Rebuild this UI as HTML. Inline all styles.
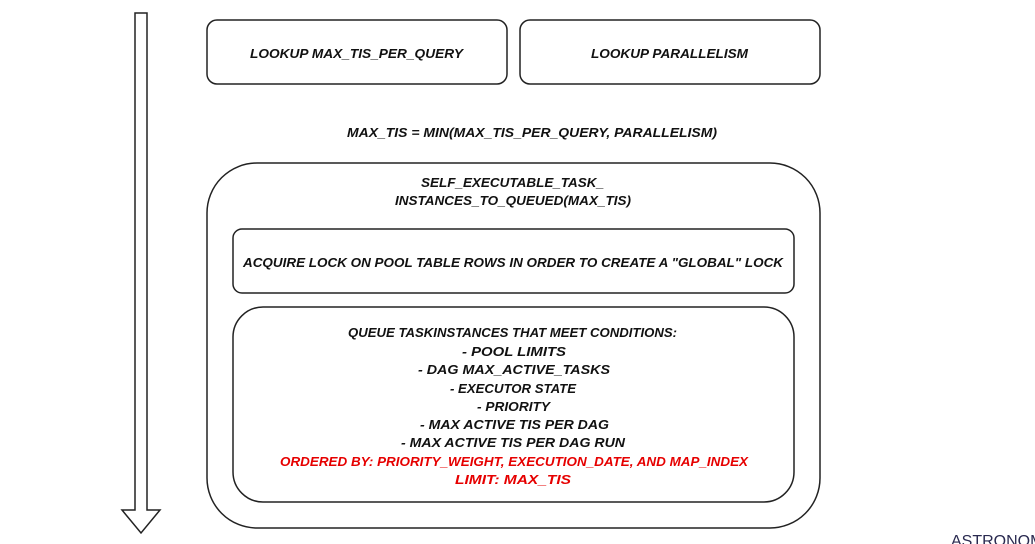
<!DOCTYPE html>
<html><head><meta charset="utf-8"><style>
html,body{margin:0;padding:0;background:#fff;width:1035px;height:544px;overflow:hidden}
text{font-family:"Liberation Sans",sans-serif;font-weight:bold;font-style:italic;text-transform:uppercase;font-size:13px;fill:#111}
.r{fill:#e60000}
</style></head><body>
<svg width="1035" height="544" viewBox="0 0 1035 544" xmlns="http://www.w3.org/2000/svg">
<g fill="none" stroke="#222" stroke-width="1.5">
<path d="M135,13 L147,13 L147,510 L160,510 L141,533 L122,510 L135,510 Z" fill="#fff"/>
<rect x="207" y="20" width="300" height="64" rx="10"/>
<rect x="520" y="20" width="300" height="64" rx="10"/>
<rect x="207" y="163" width="613" height="365" rx="50"/>
<rect x="233" y="229" width="561" height="64" rx="9"/>
<rect x="233" y="307" width="561" height="195" rx="30"/>
</g>
<text x="250" y="58" textLength="213" lengthAdjust="spacingAndGlyphs">Lookup max_tis_per_query</text>
<text x="591" y="58" textLength="157" lengthAdjust="spacingAndGlyphs">Lookup Parallelism</text>
<text x="347" y="137" textLength="370" lengthAdjust="spacingAndGlyphs">max_tis = min(max_tis_per_query, parallelism)</text>
<text x="421" y="187" textLength="183" lengthAdjust="spacingAndGlyphs">Self_executable_task_</text>
<text x="395" y="205" textLength="236" lengthAdjust="spacingAndGlyphs">instances_to_queued(Max_Tis)</text>
<text x="243" y="267" textLength="540" lengthAdjust="spacingAndGlyphs">Acquire Lock on pool table rows in order to create a "global" lock</text>
<text x="348" y="337" textLength="329" lengthAdjust="spacingAndGlyphs">Queue TaskInstances that meet Conditions:</text>
<text x="462" y="356" textLength="104" lengthAdjust="spacingAndGlyphs">- pool limits</text>
<text x="418" y="374" textLength="192" lengthAdjust="spacingAndGlyphs">- DAG max_active_tasks</text>
<text x="450" y="393" textLength="126" lengthAdjust="spacingAndGlyphs">- executor state</text>
<text x="477" y="411" textLength="73" lengthAdjust="spacingAndGlyphs">- priority</text>
<text x="420" y="429" textLength="189" lengthAdjust="spacingAndGlyphs">- max active tis per DAG</text>
<text x="401" y="447" textLength="224" lengthAdjust="spacingAndGlyphs">- max active tis per DAG run</text>
<text class="r" x="280" y="466" textLength="468" lengthAdjust="spacingAndGlyphs">Ordered by: Priority_weight, Execution_date, And Map_Index</text>
<text class="r" x="455" y="484" textLength="116" lengthAdjust="spacingAndGlyphs">Limit: Max_Tis</text>
<text x="951" y="546" style="font-style:normal;font-weight:normal;font-size:16px;fill:#2a2a50">ASTRONOMER</text>
</svg>
</body></html>
